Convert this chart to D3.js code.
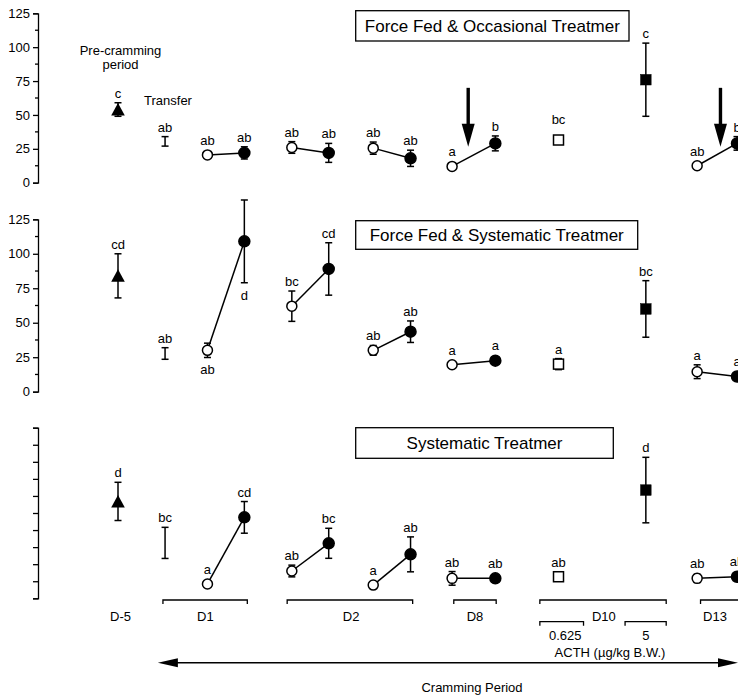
<!DOCTYPE html>
<html>
<head>
<meta charset="utf-8">
<script src="https://cdn.jsdelivr.net/npm/d3@7"></script>
<style>
  body { margin: 0; background: #fff; }
  text { font-family: Arial, "Liberation Sans", Helvetica, sans-serif; fill: #000; }
</style>
</head>
<body>
<div class="chart"></div>
<script>
var width = 738;
var height = 695;

// samples along the time line (x in "slot" units)
var samples = ["D-5", "Transfer", "D1 a", "D1 b", "D2 a", "D2 b", "D2 c", "D2 d",
               "D8 a", "D8 b", "D10 0.625", "D10 5", "D13 a", "D13 b"];
var slots   = [0, 1.11, 2.11, 2.98, 4.1, 4.97, 6.02, 6.9, 7.88, 8.9, 10.39, 12.45, 13.66, 14.6];
var shapes  = ["tri", "none", "open", "fill", "open", "fill", "open", "fill",
               "open", "fill", "osq", "fsq", "open", "fill"];
var pairs   = [[2, 3], [4, 5], [6, 7], [8, 9], [12, 13]];

var titles = ["Force Fed & Occasional Treatmer", "Force Fed & Systematic Treatmer", "Systematic Treatmer"];

// Force fed & occasional treatment
var occMean    = [54, 30.5, 20.5, 22, 26, 22, 25.5, 18, 12, 29, 31.5, 76, 12.5, 29];
var occSem     = [5, 3.5, 1, 4.5, 4.3, 7, 4.5, 6, 0, 5.5, 0, 27, 0, 5];
var occLetters = ["c", "ab", "ab", "ab", "ab", "ab", "ab", "ab", "a", "b", "bc", "c", "ab", "b"];

// Force fed & systematic treatment
var sysFedMean    = [84, 27.7, 30, 109, 62, 89, 30, 43.5, 19.5, 22.5, 20, 60, 14.5, 11];
var sysFedSem     = [16, 4.2, 5.2, 30, 11, 19, 3.5, 7.8, 1.5, 2.5, 4, 20.5, 5, 2];
var sysFedLetters = ["cd", "ab", "ab", "d", "bc", "cd", "ab", "ab", "a", "a", "a", "bc", "a", "a"];
var sysFedBelow   = [2, 3];

// Systematic treatment
var sysMean    = [71, 40.6, 10.5, 59.3, 20, 40.3, 9.7, 32.2, 14.6, 14.6, 15.8, 79.3, 14.6, 15.8];
var sysSem     = [14, 11.4, 1, 11.6, 4.3, 11, 1, 12.8, 5, 1, 0, 24, 3, 1];
var sysLetters = ["d", "bc", "a", "cd", "ab", "bc", "a", "ab", "ab", "ab", "ab", "d", "ab", "ab"];

var yTicks = [0, 25, 50, 75, 100, 125];
var yMinor = [12.5, 37.5, 62.5, 87.5, 112.5];

// bottom brackets
var groups     = ["D1", "D2", "D8", "D10", "D13"];
var groupStart = [1.06, 3.99, 7.92, 9.95, 13.74];
var groupEnd   = [3.05, 6.95, 8.92, 12.93, 15];
var groupLabel = [2.06, 5.5, 8.42, 11.46, 14.08];
var doses      = ["0.625", "5"];
var doseStart  = [9.95, 11.96];
var doseEnd    = [10.98, 12.93];
var doseLabel  = [10.55, 12.45];

// arrows in first panel (slot positions)
var arrowAt = [8.26, 14.21];

var svg = d3.select(".chart").append("svg")
    .attr("width", width)
    .attr("height", height);

var x = d3.scaleLinear().domain([0, 14.6]).range([118, 737]);

var panels = [
  {mean: occMean, sem: occSem, letters: occLetters, below: [], top: 13.3, bottom: 182.7, labels: true,
   box: [355.7, 629, 10.7, 41]},
  {mean: sysFedMean, sem: sysFedSem, letters: sysFedLetters, below: sysFedBelow, top: 219.3, bottom: 391.7, labels: true,
   box: [355.7, 637.7, 220.7, 249.3]},
  {mean: sysMean, sem: sysSem, letters: sysLetters, below: [], top: 427.7, bottom: 598.3, labels: false,
   box: [355.7, 613.3, 427.7, 458.3]}
];

var markerR = {tri: 6.5, open: 5, fill: 5.5, osq: 5, fsq: 5.3, none: 0};

panels.forEach(function(p, k) {
  var y = d3.scaleLinear().domain([0, 125]).range([p.bottom, p.top]);
  var g = svg.append("g").attr("class", "panel");

  // y axis
  var axis = d3.axisLeft(y).tickSizeOuter(0);
  if (p.labels) {
    axis.tickValues(yTicks).tickSize(5).tickPadding(3);
  } else {
    axis.tickValues(yTicks.concat(yMinor)).tickSize(5).tickFormat("");
  }
  var ax = g.append("g").attr("transform", "translate(38,0)").call(axis);
  ax.selectAll("text").style("font-size", "13px").attr("fill", "#000");
  ax.selectAll("line, path").attr("stroke", "#000").attr("stroke-width", 1.3);
  if (p.labels) {
    ax.selectAll(".minor").data(yMinor).enter().append("line")
      .attr("x1", -3).attr("x2", 0)
      .attr("y1", function(d) { return y(d); })
      .attr("y2", function(d) { return y(d); })
      .attr("stroke", "#000").attr("stroke-width", 1.3);
  }

  // title box
  g.append("rect")
    .attr("x", p.box[0]).attr("y", p.box[2])
    .attr("width", p.box[1] - p.box[0]).attr("height", p.box[3] - p.box[2])
    .attr("fill", "#fff").attr("stroke", "#000").attr("stroke-width", 1.3);
  g.append("text")
    .attr("x", (p.box[0] + p.box[1]) / 2)
    .attr("y", (p.box[2] + p.box[3]) / 2 + 6)
    .attr("text-anchor", "middle")
    .style("font-size", "17px")
    .text(titles[k]);

  // lines joining before / after samples
  g.selectAll(".pair").data(pairs).enter().append("line")
    .attr("x1", function(d) { return x(slots[d[0]]); })
    .attr("y1", function(d) { return y(p.mean[d[0]]); })
    .attr("x2", function(d) { return x(slots[d[1]]); })
    .attr("y2", function(d) { return y(p.mean[d[1]]); })
    .attr("stroke", "#000").attr("stroke-width", 1.5);

  var idx = d3.range(samples.length);

  // error bars
  var eb = g.selectAll(".err").data(idx.filter(function(i) { return p.sem[i] > 0; }))
    .enter().append("g");
  eb.append("line")
    .attr("x1", function(i) { return x(slots[i]); })
    .attr("x2", function(i) { return x(slots[i]); })
    .attr("y1", function(i) { return y(p.mean[i] + p.sem[i]); })
    .attr("y2", function(i) { return y(p.mean[i] - p.sem[i]); })
    .attr("stroke", "#000").attr("stroke-width", 1.5);
  [1, -1].forEach(function(s) {
    eb.append("line")
      .attr("x1", function(i) { return x(slots[i]) - 3.5; })
      .attr("x2", function(i) { return x(slots[i]) + 3.5; })
      .attr("y1", function(i) { return y(p.mean[i] + s * p.sem[i]); })
      .attr("y2", function(i) { return y(p.mean[i] + s * p.sem[i]); })
      .attr("stroke", "#000").attr("stroke-width", 1.5);
  });

  // markers
  idx.forEach(function(i) {
    var cx = x(slots[i]), cy = y(p.mean[i]), sh = shapes[i];
    if (sh === "open" || sh === "fill") {
      g.append("circle").attr("cx", cx).attr("cy", cy).attr("r", markerR[sh])
        .attr("fill", sh === "fill" ? "#000" : "#fff")
        .attr("stroke", "#000").attr("stroke-width", 1.5);
    } else if (sh === "osq" || sh === "fsq") {
      var r = markerR[sh];
      g.append("rect").attr("x", cx - r).attr("y", cy - r)
        .attr("width", 2 * r).attr("height", 2 * r)
        .attr("fill", sh === "fsq" ? "#000" : "#fff")
        .attr("stroke", "#000").attr("stroke-width", sh === "fsq" ? 0.5 : 1.5);
    } else if (sh === "tri") {
      g.append("path")
        .attr("d", "M" + cx + "," + (cy - 6.5) + "L" + (cx + 6.8) + "," + (cy + 6) + "L" + (cx - 6.8) + "," + (cy + 6) + "Z")
        .attr("fill", "#000");
    }
  });

  // significance letters
  g.selectAll(".letter").data(idx).enter().append("text")
    .attr("x", function(i) { return x(slots[i]); })
    .attr("y", function(i) {
      var r = markerR[shapes[i]];
      if (p.below.indexOf(i) >= 0) {
        return Math.max(y(p.mean[i] - p.sem[i]), y(p.mean[i]) + r) + 17;
      }
      var gap = shapes[i] === "osq" && k === 0 ? 11 : 5;
      return Math.min(y(p.mean[i] + p.sem[i]), y(p.mean[i]) - r) - gap;
    })
    .attr("text-anchor", "middle")
    .style("font-size", "13px")
    .text(function(i) { return p.letters[i]; });

  // arrows marking the occasional treatment
  if (k === 0) {
    var yTop = y(70), yTip = y(26.5);
    arrowAt.forEach(function(s) {
      var ax0 = x(s);
      g.append("line").attr("x1", ax0).attr("x2", ax0).attr("y1", yTop).attr("y2", yTip - 20)
        .attr("stroke", "#000").attr("stroke-width", 3.4);
      g.append("path")
        .attr("d", "M" + (ax0 - 6.5) + "," + (yTip - 23) + "L" + (ax0 + 6.5) + "," + (yTip - 23) + "L" + ax0 + "," + yTip + "Z")
        .attr("fill", "#000");
    });
  }
});

// annotations of the first panel
var note = svg.append("g").style("font-size", "13px").attr("text-anchor", "middle");
note.append("text").attr("x", 120.5).attr("y", 55).text("Pre-cramming");
note.append("text").attr("x", 120.5).attr("y", 69).text("period");
note.append("text").attr("x", 168).attr("y", 105).text("Transfer");

// bottom brackets
var bottom = svg.append("g").style("font-size", "13px").attr("text-anchor", "middle");
function bracket(x0, x1, yy) {
  bottom.append("path")
    .attr("d", "M" + x0 + "," + (yy + 4) + "V" + yy + "H" + x1 + "V" + (yy + 4))
    .attr("fill", "none").attr("stroke", "#000").attr("stroke-width", 1.3);
}
bottom.append("text").attr("x", x(0.06)).attr("y", 621).text("D-5");
groups.forEach(function(name, i) {
  bracket(x(groupStart[i]), x(groupEnd[i]), 600);
  bottom.append("text").attr("x", x(groupLabel[i])).attr("y", 621).text(name);
});
doses.forEach(function(name, i) {
  bracket(x(doseStart[i]), x(doseEnd[i]), 621.7);
  bottom.append("text").attr("x", x(doseLabel[i])).attr("y", 640).text(name);
});
bottom.append("text").attr("x", 610).attr("y", 656.5).text("ACTH (\u00b5g/kg B.W.)");

// cramming period arrow
var ay = 662.7, axL = x(0.94), axR = 738;
bottom.append("line").attr("x1", axL + 15).attr("x2", axR - 15).attr("y1", ay).attr("y2", ay)
  .attr("stroke", "#000").attr("stroke-width", 1.5);
bottom.append("path")
  .attr("d", "M" + axL + "," + ay + "L" + (axL + 20) + "," + (ay - 4.5) + "L" + (axL + 20) + "," + (ay + 4.5) + "Z")
  .attr("fill", "#000");
bottom.append("path")
  .attr("d", "M" + axR + "," + ay + "L" + (axR - 20) + "," + (ay - 4.5) + "L" + (axR - 20) + "," + (ay + 4.5) + "Z")
  .attr("fill", "#000");
bottom.append("text").attr("x", 472).attr("y", 691.5).text("Cramming Period");
</script>
</body>
</html>
